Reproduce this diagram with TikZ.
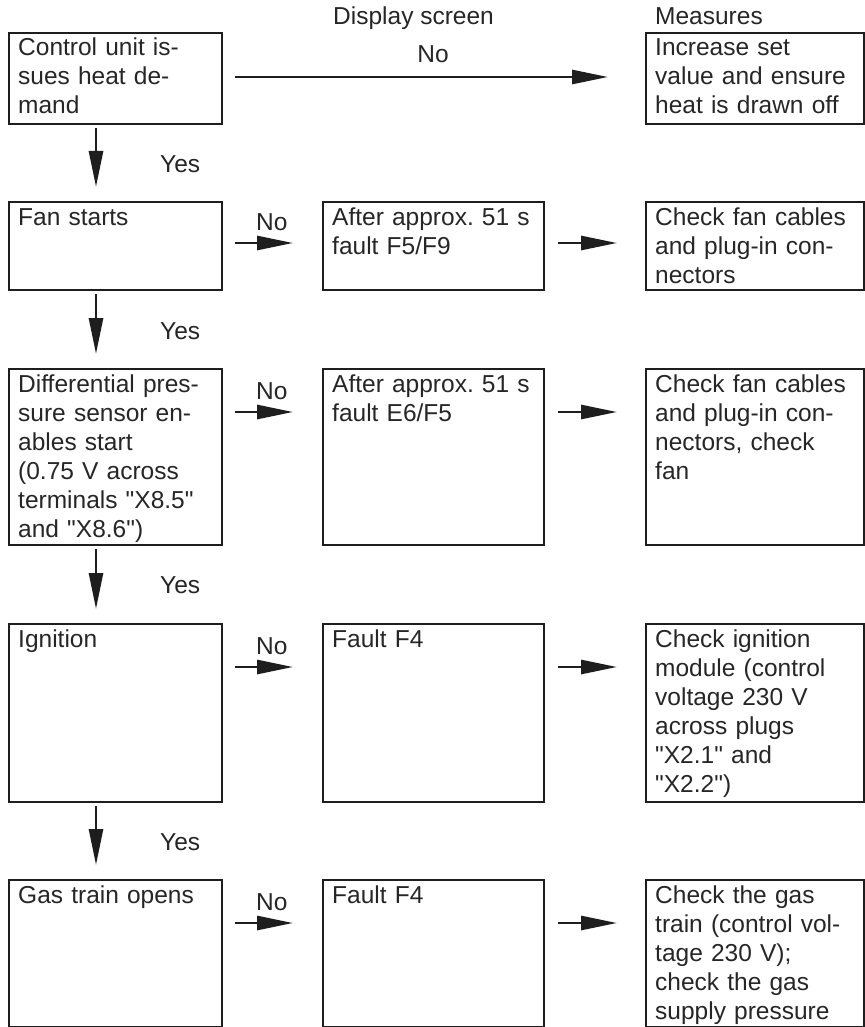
\documentclass[tikz,border=0pt]{standalone}
\usepackage{fontspec}
\setmainfont{Liberation Sans}
\usetikzlibrary{arrows.meta,positioning}
\definecolor{ink}{HTML}{1E1E1E}
\definecolor{txtc}{HTML}{262626}
\newcommand{\dq}{\textquotedbl}
\begin{document}
\frenchspacing
\begin{tikzpicture}[x=1pt,y=-1pt,
  box/.style={draw=ink,line width=2pt,inner sep=0pt,anchor=north west},
  txt/.style={text=txtc,font=\fontsize{24.5}{29}\selectfont\frenchspacing,inner sep=0pt,anchor=base west,align=left,text width=215pt},
  lbl/.style={text=txtc,font=\fontsize{24.5}{29}\selectfont,inner sep=0pt,anchor=base west},
  arr/.style={draw=ink,line width=2.8pt,-{Triangle[length=36pt,width=14pt]}},
  vdown/.style={arr,shorten <=3pt,shorten >=14pt},
  hshort/.style={arr,shorten <=12pt,shorten >=29pt},
  hright/.style={arr,shorten <=13pt,shorten >=28pt}]
\useasboundingbox (0,0) rectangle (864,1027);
% boxes
\node[box,minimum width=213pt,minimum height=91pt] (b1) at (8,32) {};
\node[box,minimum width=213pt,minimum height=88pt] (b2) at (8,201) {};
\node[box,minimum width=213pt,minimum height=176pt] (b3) at (8,368) {};
\node[box,minimum width=213pt,minimum height=178pt] (b4) at (8,623) {};
\node[box,minimum width=213pt,minimum height=147pt] (b5) at (8,879) {};
\node[box,minimum width=221pt,minimum height=88pt] (m2) at (322,201) {};
\node[box,minimum width=221pt,minimum height=176pt] (m3) at (322,368) {};
\node[box,minimum width=221pt,minimum height=178pt] (m4) at (322,623) {};
\node[box,minimum width=221pt,minimum height=147pt] (m5) at (322,879) {};
\node[box,minimum width=218pt,minimum height=91pt] (r1) at (645,32) {};
\node[box,minimum width=218pt,minimum height=88pt] (r2) at (645,201) {};
\node[box,minimum width=218pt,minimum height=176pt] (r3) at (645,368) {};
\node[box,minimum width=218pt,minimum height=178pt] (r4) at (645,623) {};
\node[box,minimum width=218pt,minimum height=147pt] (r5) at (645,879) {};
% texts
\node[txt] (tb1) at ([shift={(10pt,-24pt)}]b1.north west) {Control unit is-\\sues heat de-\\mand};
\node[txt] (tb2) at ([shift={(10pt,-24pt)}]b2.north west) {Fan starts};
\node[txt] (tb3) at ([shift={(10pt,-24pt)}]b3.north west) {Differential pres-\\sure sensor en-\\ables start\\(0.75 V across\\terminals \dq X8.5\dq\\and \dq X8.6\dq)};
\node[txt] (tb4) at ([shift={(10pt,-24pt)}]b4.north west) {Ignition};
\node[txt] (tb5) at ([shift={(10pt,-24pt)}]b5.north west) {Gas train opens};
\node[txt] (tm2) at ([shift={(10pt,-24pt)}]m2.north west) {After approx. 51 s\\fault F5/F9};
\node[txt] (tm3) at ([shift={(10pt,-24pt)}]m3.north west) {After approx. 51 s\\fault E6/F5};
\node[txt] (tm4) at ([shift={(10pt,-24pt)}]m4.north west) {Fault F4};
\node[txt] (tm5) at ([shift={(10pt,-24pt)}]m5.north west) {Fault F4};
\node[txt] (tr1) at ([shift={(10pt,-24pt)}]r1.north west) {Increase set\\value and ensure\\heat is drawn off};
\node[txt] (tr2) at ([shift={(10pt,-24pt)}]r2.north west) {Check fan cables\\and plug-in con-\\nectors};
\node[txt] (tr3) at ([shift={(10pt,-24pt)}]r3.north west) {Check fan cables\\and plug-in con-\\nectors, check\\fan};
\node[txt] (tr4) at ([shift={(10pt,-24pt)}]r4.north west) {Check ignition\\module (control\\voltage 230 V\\across plugs\\\dq X2.1\dq{} and\\\dq X2.2\dq)};
\node[txt] (tr5) at ([shift={(10pt,-24pt)}]r5.north west) {Check the gas\\train (control vol-\\tage 230 V);\\check the gas\\supply pressure};
% headers
\node[lbl] (hdisp) at (333,25) {Display screen};
\node[lbl] (hmeas) at (655,25) {Measures};
% long No arrow
\draw[arr,shorten <=12pt,shorten >=37pt] ([yshift=-45pt]b1.north east) -- ([yshift=-45pt]r1.north west);
\node[lbl,anchor=base] (no1) at (433,63) {No};
% vertical arrows
\draw[vdown] ([xshift=88pt]b1.south west) -- ([xshift=88pt]b2.north west);
\draw[vdown] ([xshift=88pt]b2.south west) -- ([xshift=88pt]b3.north west);
\draw[vdown] ([xshift=88pt]b3.south west) -- ([xshift=88pt]b4.north west);
\draw[vdown] ([xshift=88pt]b4.south west) -- ([xshift=88pt]b5.north west);
\node[lbl] (y1) at (160,172) {Yes};
\node[lbl] (y2) at (160,339) {Yes};
\node[lbl] (y3) at (160,593) {Yes};
\node[lbl] (y4) at (160,850) {Yes};
% horizontal arrows left -> middle
\draw[hshort] ([yshift=-42pt]b2.north east) -- ([yshift=-42pt]m2.north west);
\draw[hshort] ([yshift=-44pt]b3.north east) -- ([yshift=-44pt]m3.north west);
\draw[hshort] ([yshift=-44pt]b4.north east) -- ([yshift=-44pt]m4.north west);
\draw[hshort] ([yshift=-44pt]b5.north east) -- ([yshift=-44pt]m5.north west);
\node[lbl] (n2) at (256,230) {No};
\node[lbl] (n3) at (256,399) {No};
\node[lbl] (n4) at (256,654) {No};
\node[lbl] (n5) at (256,910) {No};
% horizontal arrows middle -> right
\draw[hright] ([yshift=-42pt]m2.north east) -- ([yshift=-42pt]r2.north west);
\draw[hright] ([yshift=-44pt]m3.north east) -- ([yshift=-44pt]r3.north west);
\draw[hright] ([yshift=-44pt]m4.north east) -- ([yshift=-44pt]r4.north west);
\draw[hright] ([yshift=-44pt]m5.north east) -- ([yshift=-44pt]r5.north west);
\end{tikzpicture}
\end{document}
